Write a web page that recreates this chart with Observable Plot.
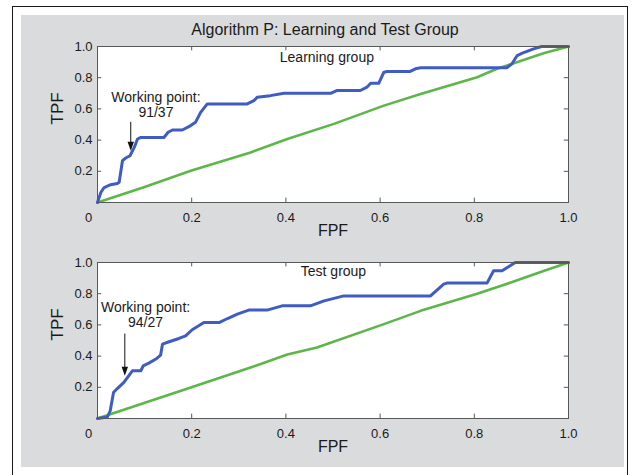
<!DOCTYPE html>
<html>
<head>
<meta charset="utf-8">
<script src="https://cdn.jsdelivr.net/npm/d3@7"></script>
<script src="https://cdn.jsdelivr.net/npm/@observablehq/plot@0.6"></script>
<style>
  body { margin: 0; background: #ffffff; width: 636px; height: 475px; overflow: hidden; position: relative; font-family: "Liberation Sans", Arial, sans-serif; }
  #outer { position: absolute; left: 12px; top: 6px; width: 616px; height: 480px; border: 1.5px solid #1a1a1a; border-bottom: none; box-sizing: border-box; }
  #panel { position: absolute; left: 21px; top: 15px; width: 603px; height: 452px; background: #dadbdd; }
  #title { position: absolute; left: 21px; top: 21px; width: 608px; text-align: center; font-size: 16px; line-height: 18px; color: #1a1a1a; }
  .plotbox { position: absolute; left: 21px; }
</style>
</head>
<body>
<div id="outer"></div>
<div id="panel"></div>
<div id="title">Algorithm P: Learning and Test Group</div>
<div id="top" class="plotbox" style="top:40px"></div>
<div id="bottom" class="plotbox" style="top:255px"></div>
<script>
// ---- data ----
const xTickValues = [0.2, 0.4, 0.6, 0.8, 1.0];
const yTickValues = [0.2, 0.4, 0.6, 0.8, 1.0];
const innerTicks = [0.2, 0.4, 0.6, 0.8];
const originLabel = ["0"];

const learnTitle = "Learning group";
const learnWorking = "Working point:\n91/37";
const learnFPF = [0, 0.007, 0.014, 0.028, 0.042, 0.046, 0.053, 0.06, 0.069, 0.078, 0.085, 0.092, 0.141, 0.150, 0.159, 0.180, 0.198, 0.208, 0.219, 0.233, 0.318, 0.332, 0.339, 0.367, 0.396, 0.495, 0.509, 0.558, 0.572, 0.580, 0.597, 0.608, 0.615, 0.664, 0.675, 0.686, 0.869, 0.880, 0.891, 0.902, 0.926, 0.943, 1.0];
const learnTPF = [0, 0.064, 0.096, 0.114, 0.122, 0.13, 0.268, 0.285, 0.30, 0.353, 0.407, 0.417, 0.417, 0.45, 0.465, 0.465, 0.493, 0.514, 0.578, 0.632, 0.632, 0.653, 0.674, 0.685, 0.70, 0.70, 0.718, 0.718, 0.739, 0.764, 0.764, 0.835, 0.84, 0.84, 0.857, 0.864, 0.864, 0.889, 0.942, 0.957, 0.985, 1.0, 1.0];
const learnChanceFPF = [0, 0.1, 0.198, 0.325, 0.403, 0.502, 0.608, 0.686, 0.806, 0.848, 0.876, 0.947, 1.0];
const learnChanceTPF = [0, 0.1, 0.204, 0.321, 0.407, 0.504, 0.621, 0.696, 0.803, 0.857, 0.884, 0.957, 1.0];
const learnArrow = {x: 0.0706, y1: 0.514, y2: 0.332};
const learnTextPos = {x: 0.124, y: 0.63};
const learnTitlePos = {x: 0.487, y: 0.931};

const testTitle = "Test group";
const testWorking = "Working point:\n94/27";
const testFPF = [0, 0.021, 0.027, 0.034, 0.042, 0.056, 0.074, 0.092, 0.097, 0.109, 0.124, 0.134, 0.138, 0.152, 0.173, 0.187, 0.201, 0.226, 0.258, 0.276, 0.297, 0.321, 0.360, 0.392, 0.452, 0.481, 0.523, 0.707, 0.735, 0.742, 0.827, 0.841, 0.859, 0.876, 0.887, 1.0];
const testTPF = [0, 0.01, 0.049, 0.167, 0.192, 0.231, 0.306, 0.306, 0.338, 0.355, 0.381, 0.406, 0.477, 0.492, 0.513, 0.530, 0.569, 0.615, 0.615, 0.641, 0.669, 0.695, 0.695, 0.722, 0.722, 0.754, 0.786, 0.786, 0.861, 0.868, 0.868, 0.947, 0.947, 0.979, 1.0, 1.0];
const testChanceFPF = [0, 0.198, 0.325, 0.403, 0.466, 0.608, 0.686, 0.806, 0.876, 0.947, 1.0];
const testChanceTPF = [0, 0.199, 0.327, 0.41, 0.455, 0.605, 0.690, 0.80, 0.87, 0.945, 1.0];
const testArrow = {x: 0.058, y1: 0.541, y2: 0.274};
const testTextPos = {x: 0.102, y: 0.665};
const testTitlePos = {x: 0.501, y: 0.940};

const blue = "#3f5cc4";
const green = "#5cb64a";
const frameColor = "#555a58";

// downward filled triangle with tip at the point
const downTriangle = {
  draw(context, size) {
    const w = 3.2, h = 9;
    context.moveTo(0, 0);
    context.lineTo(-w, -h);
    context.lineTo(w, -h);
    context.closePath();
  }
};

function makePlot({fpf, tpf, chanceFpf, chanceTpf, title, titlePos, working, textPos, arrow, marginTop, height}) {
  const curve = fpf.map((x, i) => ({x, y: tpf[i]}));
  const chance = chanceFpf.map((x, i) => ({x, y: chanceTpf[i]}));
  const tly = 0.028, tlx = 0.009;
  return Plot.plot({
    width: 603,
    height,
    marginLeft: 76,
    marginRight: 56,
    marginTop,
    marginBottom: height - marginTop - 156,
    style: {fontFamily: "'Liberation Sans', Arial, sans-serif", fontSize: "13px", color: "#1a1a1a", background: "transparent", overflow: "visible"},
    x: {domain: [0, 1]},
    y: {domain: [0, 1]},
    marks: [
      Plot.frame({fill: "white"}),
      Plot.ruleX(innerTicks, {x: d => d, y1: 0, y2: tly, stroke: frameColor, strokeWidth: 1}),
      Plot.ruleX(innerTicks, {x: d => d, y1: 1 - tly, y2: 1, stroke: frameColor, strokeWidth: 1}),
      Plot.ruleY(innerTicks, {y: d => d, x1: 0, x2: tlx, stroke: frameColor, strokeWidth: 1}),
      Plot.ruleY(innerTicks, {y: d => d, x1: 1 - tlx, x2: 1, stroke: frameColor, strokeWidth: 1}),
      Plot.line(chance, {x: "x", y: "y", stroke: green, strokeWidth: 2.6, strokeLinejoin: "round"}),
      Plot.line(curve, {x: "x", y: "y", stroke: blue, strokeWidth: 3, strokeLinejoin: "round"}),
      Plot.frame({stroke: frameColor, strokeWidth: 1}),
      Plot.axisX({ticks: xTickValues, tickFormat: d3.format(".1f"), tickSize: 0, tickPadding: 10, label: null, fontSize: 13, fill: "#1a1a1a"}),
      Plot.axisY({ticks: yTickValues, tickFormat: d3.format(".1f"), tickSize: 0, tickPadding: 5, label: null, fontSize: 13, fill: "#1a1a1a"}),
      Plot.text(originLabel, {x: 0, y: 0, text: d => d, dx: -9, dy: 15, fontSize: 13, fill: "#1a1a1a"}),
      Plot.text(["FPF"], {frameAnchor: "bottom", text: d => d, dy: 33, fontSize: 16, fill: "#1a1a1a"}),
      Plot.text(["TPF"], {frameAnchor: "left", text: d => d, dx: -40, rotate: -90, fontSize: 17, fill: "#1a1a1a"}),
      Plot.text([title], {x: titlePos.x, y: titlePos.y, text: d => d, fontSize: 14, fill: "#1a1a1a"}),
      Plot.text([working], {x: textPos.x, y: textPos.y, text: d => d, fontSize: 14, lineHeight: 1.08, fill: "#1a1a1a"}),
      Plot.ruleX([arrow], {x: "x", y1: "y1", y2: d => d.y2 + 0.05, stroke: "#111", strokeWidth: 1}),
      Plot.dot([arrow], {x: "x", y: "y2", symbol: downTriangle, fill: "#111", stroke: "none", r: 5})
    ]
  });
}

document.getElementById("top").append(makePlot({
  fpf: learnFPF, tpf: learnTPF, chanceFpf: learnChanceFPF, chanceTpf: learnChanceTPF,
  title: learnTitle, titlePos: learnTitlePos, working: learnWorking, textPos: learnTextPos,
  arrow: learnArrow, marginTop: 6, height: 207
}));
document.getElementById("bottom").append(makePlot({
  fpf: testFPF, tpf: testTPF, chanceFpf: testChanceFPF, chanceTpf: testChanceTPF,
  title: testTitle, titlePos: testTitlePos, working: testWorking, textPos: testTextPos,
  arrow: testArrow, marginTop: 7, height: 208
}));
</script>
</body>
</html>
